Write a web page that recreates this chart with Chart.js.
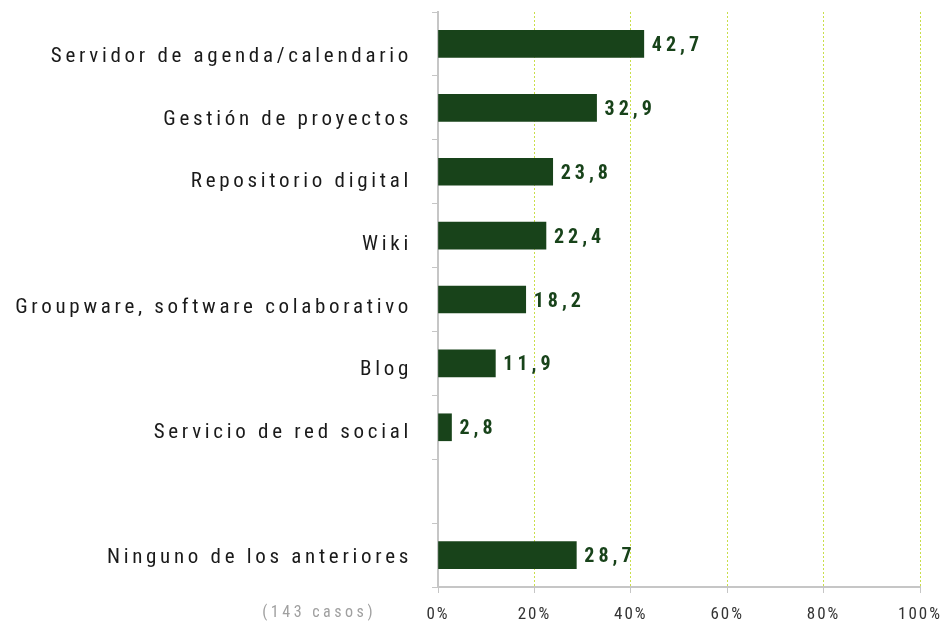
<!DOCTYPE html>
<html>
<head>
<meta charset="utf-8">
<script src="https://cdn.jsdelivr.net/npm/chart.js@4/dist/chart.umd.min.js"></script>
<style>
  html, body { margin: 0; padding: 0; background: #fff; }
  #wrap { width: 941px; height: 625px; position: relative; }
</style>
</head>
<body>
<div id="wrap"><canvas id="grafico"></canvas></div>
<script>
var categorias = [
  "Servidor de agenda/calendario",
  "Gestión de proyectos",
  "Repositorio digital",
  "Wiki",
  "Groupware, software colaborativo",
  "Blog",
  "Servicio de red social",
  "",
  "Ninguno de los anteriores"
];
var porcentajes = [42.7, 32.9, 23.8, 22.4, 18.2, 11.9, 2.8, null, 28.7];
var ticksX = [0, 20, 40, 60, 80, 100];
var nota = "(143 casos)";

var fuente = "'Roboto Condensed', 'Liberation Sans Narrow', sans-serif";
var verde = "#18431a";
var gris = "#c6c6c6";

// espaciado de letras (el canvas lo pierde al redimensionar)
var espaciado = {
  id: 'espaciado',
  beforeUpdate: function (chart) { chart.ctx.letterSpacing = '3.7px'; },
  afterLayout: function (chart) {
    // las etiquetas del original no caen justo en el centro de cada barra
    var items = chart.scales.y.getLabelItems(chart.chartArea);
    items.forEach(function (it, i) {
      it.options.translation[1] += 13 - 1.25 * i;
    });
  },
  beforeDraw: function (chart) { chart.ctx.letterSpacing = '3.7px'; },
  afterDatasetsDraw: function (chart) {
    var ctx = chart.ctx;
    var meta = chart.getDatasetMeta(0);
    ctx.save();
    ctx.letterSpacing = '4px';
    ctx.font = "bold 20px " + fuente;
    ctx.fillStyle = verde;
    ctx.textAlign = 'left';
    ctx.textBaseline = 'middle';
    meta.data.forEach(function (bar, i) {
      var v = porcentajes[i];
      if (v === null) return;
      ctx.fillText(v.toFixed(1).replace('.', ','), bar.x + 8, bar.y + 2);
    });
    ctx.restore();
    // etiquetas del eje x con menos espacio
    ctx.letterSpacing = '2px';
  },
  afterDraw: function (chart) {
    var ctx = chart.ctx;
    ctx.save();
    ctx.letterSpacing = '3.5px';
    ctx.font = "16px " + fuente;
    ctx.fillStyle = "#a0a0a0";
    ctx.textAlign = 'right';
    ctx.textBaseline = 'middle';
    ctx.fillText(nota, 376, 613);
    ctx.restore();
  }
};

new Chart(document.getElementById("grafico"), {
  type: 'bar',
  data: {
    labels: categorias,
    datasets: [{
      data: porcentajes,
      backgroundColor: verde,
      barThickness: 27
    }]
  },
  plugins: [espaciado],
  options: {
    indexAxis: 'y',
    responsive: true,
    maintainAspectRatio: false,
    animation: false,
    events: [],
    layout: { padding: { top: 12, right: 21, left: 0, bottom: 0 } },
    plugins: {
      legend: { display: false },
      tooltip: { enabled: false }
    },
    scales: {
      x: {
        min: 0,
        max: 100,
        afterBuildTicks: function (scale) {
          scale.ticks = ticksX.map(function (v) { return { value: v }; });
        },
        afterFit: function (scale) {
          scale.height = 38;
          scale.paddingLeft = 0;
          scale.paddingRight = 0;
        },
        border: { color: gris, width: 2, dash: [2, 2] },
        grid: {
          color: '#c9de4a',
          tickColor: gris,
          tickLength: 6,
          lineWidth: 1
        },
        ticks: {
          z: 1,
          padding: 12,
          color: '#333',
          font: { family: fuente, size: 17 },
          callback: function (v) { return v + '%'; }
        }
      },
      y: {
        afterFit: function (scale) {
          scale.width = 438;
          scale.paddingTop = 0;
          scale.paddingBottom = 0;
        },
        border: { color: gris, width: 2 },
        grid: {
          offset: true,
          color: 'rgba(0,0,0,0)',
          tickColor: gris,
          tickLength: 6
        },
        ticks: {
          padding: 20,
          color: '#1a1a1a',
          font: { family: fuente, size: 21 }
        }
      }
    }
  }
});
</script>
</body>
</html>
